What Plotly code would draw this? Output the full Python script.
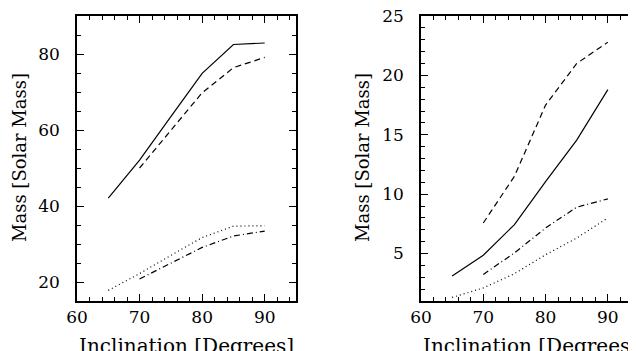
import plotly.graph_objects as go
from plotly.subplots import make_subplots

incl = [65, 70, 75, 80, 85, 90]

# left panel
left_solid = [42.1, 52.1, 63.5, 74.9, 82.5, 82.9]
left_dashed = [None, 50.0, 60.0, 69.8, 76.4, 79.1]
left_dotted = [17.8, 22.2, 27.0, 31.7, 34.7, 34.8]
left_dashdot = [None, 20.8, 25.0, 29.1, 32.1, 33.4]

# right panel
right_solid = [3.1, 4.86, 7.43, 11.06, 14.55, 18.8]
right_dashed = [None, 7.57, 11.5, 17.5, 21.0, 22.8]
right_dotted = [1.3, 2.1, 3.3, 4.9, 6.3, 8.0]
right_dashdot = [None, 3.24, 5.05, 7.15, 8.9, 9.6]

styles = ["solid", "6px,4px", "1px,3px", "6px,3px,1px,3px"]

fig = make_subplots(rows=1, cols=2)

for col, series in [(1, [left_solid, left_dashed, left_dotted, left_dashdot]),
                    (2, [right_solid, right_dashed, right_dotted, right_dashdot])]:
    for ys, dash in zip(series, styles):
        fig.add_trace(go.Scatter(x=incl, y=ys, mode="lines", showlegend=False,
                                 line=dict(color="black", width=1.2, dash=dash)),
                      row=1, col=col)

font = "DejaVu Serif"
common = dict(showgrid=False, zeroline=False, showline=True, linecolor="black",
              linewidth=1.5, mirror="allticks", ticks="inside", ticklen=7,
              tickwidth=1.2, tickcolor="black", automargin=False,
              tickfont=dict(family=font, size=17, color="black"))

fig.update_xaxes(**common)
fig.update_yaxes(**common)

fig.update_xaxes(range=[60, 95], dtick=10,
                 minor=dict(ticks="inside", ticklen=4, dtick=2, tickcolor="black", tickwidth=1))
fig.update_xaxes(domain=[69/636, 288/636], row=1, col=1)
fig.update_xaxes(domain=[413/636, 631/636], row=1, col=2)

fig.update_yaxes(domain=[58/351, 343/351], ticklabelstandoff=12, ticklabeloverflow="allow")
fig.update_yaxes(range=[15, 90], dtick=20,
                 minor=dict(ticks="inside", ticklen=4, dtick=5, tickcolor="black", tickwidth=1),
                 row=1, col=1)
fig.update_yaxes(range=[1, 25], dtick=5,
                 minor=dict(ticks="inside", ticklen=4, dtick=1, tickcolor="black", tickwidth=1),
                 row=1, col=2)

title_font = dict(family=font, size=20, color="black")
for xc in [(69 + 288) / 2 / 636, (413 + 631) / 2 / 636]:
    fig.add_annotation(text="Inclination [Degrees]", xref="paper", yref="paper",
                       x=xc, y=13/351, xanchor="center", yanchor="middle",
                       showarrow=False, font=title_font)
for xc in [11/636, 354/636]:
    fig.add_annotation(text="Mass [Solar Mass]", xref="paper", yref="paper",
                       x=xc, y=(351 - 150)/351, xanchor="center", yanchor="middle",
                       textangle=-90, showarrow=False, font=dict(title_font, size=18))

fig.update_layout(template="none", width=636, height=351, margin=dict(l=0, r=0, t=0, b=0),
                  paper_bgcolor="white", plot_bgcolor="white")

fig.write_html("out.html")
